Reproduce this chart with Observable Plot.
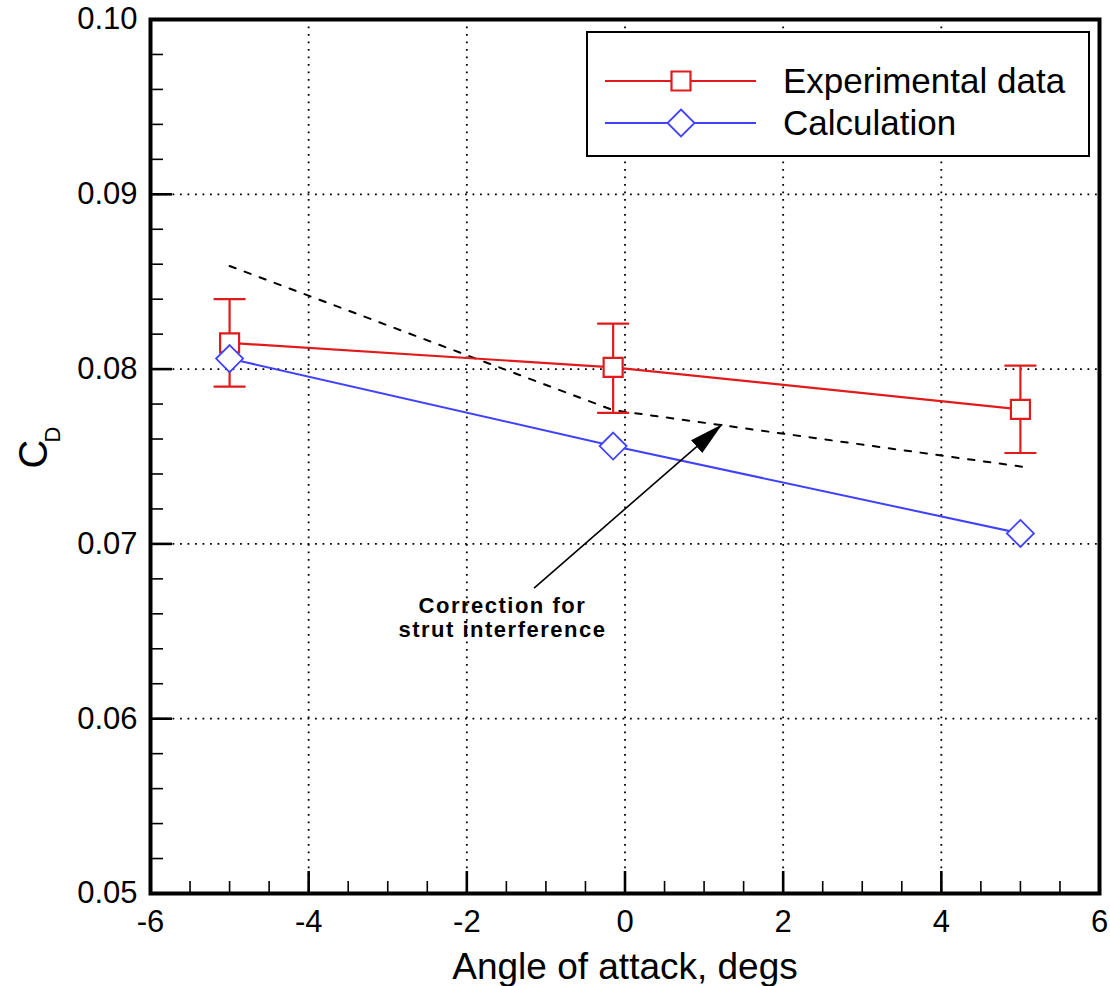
<!DOCTYPE html>
<html>
<head>
<meta charset="utf-8">
<script src="https://cdn.jsdelivr.net/npm/d3@7"></script>
<script src="https://cdn.jsdelivr.net/npm/@observablehq/plot@0.6"></script>
<style>
  body { margin: 0; background: #fff; }
  svg { display: block; }
</style>
</head>
<body>
<div id="chart"></div>
<script>
// ---- data ----
const angle     = [-5, -0.15, 5];
const expCD     = [0.0815, 0.0801, 0.0777];
const expHi     = [0.0840, 0.0826, 0.0802];
const expLo     = [0.0790, 0.0775, 0.0752];
const calcCD    = [0.0806, 0.0756, 0.0706];
const corrAngle = [-5, -0.15, 5.05];
const corrCD    = [0.0859, 0.07765, 0.0744];

const arrowFrom = [-1.15, 0.06747];
const arrowTo   = [1.23, 0.07684];
const noteX = -1.55, noteY = 0.06465;
const noteText = "Correction for\nstrut interference";

const xMajor = [-6, -4, -2, 0, 2, 4, 6];
const yMajor = [0.05, 0.06, 0.07, 0.08, 0.09, 0.10];
const xGrid = [-4, -2, 0, 2, 4];
const yGrid = [0.06, 0.07, 0.08, 0.09];
const xMinor = d3.range(-6, 6.001, 0.5);
const yMinor = d3.range(0.05, 0.1001, 0.002);

const seriesNames = ["Experimental data", "Calculation"];
const xTitle = "Angle of attack, degs";

const RED = "#e01b1b", BLUE = "#4040ff";
const FONT = "'Liberation Sans', Arial, Helvetica, sans-serif";

const exp = angle.map((a, i) => ({a, cd: expCD[i], hi: expHi[i], lo: expLo[i]}));
const calc = angle.map((a, i) => ({a, cd: calcCD[i]}));
const corr = corrAngle.map((a, i) => ({a, cd: corrCD[i]}));

// custom symbols
const capSym = {draw(c) { c.moveTo(-16, 0); c.lineTo(16, 0); }};
const squareSym = {draw(c) { c.moveTo(-9.5, -9.5); c.lineTo(9.5, -9.5); c.lineTo(9.5, 9.5); c.lineTo(-9.5, 9.5); c.closePath(); }};
const diamondSym = {draw(c) { c.moveTo(0, -13.5); c.lineTo(13.5, 0); c.lineTo(0, 13.5); c.lineTo(-13.5, 0); c.closePath(); }};

const W = 1110, H = 986, mL = 150, mR = 11, mT = 19, mB = 93;
const innerW = W - mL - mR, innerH = H - mT - mB;

const plot = Plot.plot({
  width: W, height: H,
  marginLeft: mL, marginRight: mR, marginTop: mT, marginBottom: mB,
  style: {fontFamily: FONT, background: "#fff", color: "#000", overflow: "visible"},
  x: {domain: [-6, 6]},
  y: {domain: [0.05, 0.10]},
  marks: [
    Plot.gridX(xGrid, {stroke: "#000", strokeOpacity: 1, strokeWidth: 1.8, strokeDasharray: "1.8,5.7"}),
    Plot.gridY(yGrid, {stroke: "#000", strokeOpacity: 1, strokeWidth: 1.8, strokeDasharray: "1.8,5.7"}),
    // inward ticks
    Plot.tickX(xMinor, {x: d => d, insetTop: innerH - 12, stroke: "#000", strokeWidth: 1.6}),
    Plot.tickX(xMajor, {x: d => d, insetTop: innerH - 22, stroke: "#000", strokeWidth: 2.6}),
    Plot.tickY(yMinor, {y: d => d, insetRight: innerW - 13, stroke: "#000", strokeWidth: 1.6}),
    Plot.tickY(yMajor, {y: d => d, insetRight: innerW - 22, stroke: "#000", strokeWidth: 2.6}),
    // tick labels
    Plot.axisX(xMajor, {tickSize: 0, tickPadding: 16, fontSize: 31, tickFormat: d => String(d), label: null}),
    Plot.axisY(yMajor, {tickSize: 0, tickPadding: 13, fontSize: 31, tickFormat: d => d.toFixed(2), label: null}),
    // correction (dashed)
    Plot.line(corr, {x: "a", y: "cd", stroke: "#000", strokeWidth: 2, strokeDasharray: "6.5,9.5"}),
    // experimental
    Plot.line(exp, {x: "a", y: "cd", stroke: RED, strokeWidth: 2.2}),
    Plot.ruleX(exp, {x: "a", y1: "lo", y2: "hi", stroke: RED, strokeWidth: 2.2}),
    Plot.dot(exp, {x: "a", y: "hi", symbol: capSym, stroke: RED, strokeWidth: 2.2}),
    Plot.dot(exp, {x: "a", y: "lo", symbol: capSym, stroke: RED, strokeWidth: 2.2}),
    Plot.dot(exp, {x: "a", y: "cd", symbol: squareSym, stroke: RED, fill: "#fff", strokeWidth: 2.2}),
    // calculation
    Plot.line(calc, {x: "a", y: "cd", stroke: BLUE, strokeWidth: 2}),
    Plot.dot(calc, {x: "a", y: "cd", symbol: diamondSym, stroke: BLUE, fill: "#fff", strokeWidth: 1.8}),
    // annotation
    Plot.link([0], {x1: () => arrowFrom[0], y1: () => arrowFrom[1], x2: () => arrowTo[0], y2: () => arrowTo[1], stroke: "#000", strokeWidth: 1.6}),
    Plot.text([noteText], {x: () => noteX, y: () => noteY, text: d => d, fontSize: 22, fontWeight: "bold", lineHeight: 1.1, lineAnchor: "bottom", textAnchor: "middle", fill: "#000"}),
    // axis titles
    Plot.text([xTitle], {frameAnchor: "bottom", dy: 85, text: d => d, fontSize: 37, lineAnchor: "bottom", fill: "#000"}),
    Plot.text(["C"], {frameAnchor: "left", dx: -116, dy: 12, rotate: -90, text: d => d, fontSize: 40, fill: "#000"}),
    Plot.text(["D"], {frameAnchor: "left", dx: -98, dy: -14, rotate: -90, text: d => d, fontSize: 22, fill: "#000"}),
    Plot.frame({stroke: "#000", strokeWidth: 4})
  ]
});

document.getElementById("chart").appendChild(plot);

const svg = d3.select(plot);

// letter spacing for annotation (pixel font look)
svg.selectAll("text").filter(function () { return this.textContent.startsWith("Correction"); })
  .attr("letter-spacing", 1.5);

// filled arrowhead on the annotation link
const defs = svg.append("defs");
defs.append("marker")
  .attr("id", "ahead").attr("markerUnits", "userSpaceOnUse")
  .attr("markerWidth", 36).attr("markerHeight", 18)
  .attr("viewBox", "-34 -9 36 18").attr("refX", 0).attr("refY", 0)
  .attr("orient", "auto")
  .append("path").attr("d", "M0,0L-34,-8.5L-34,8.5Z").attr("fill", "#000");
svg.select('g[aria-label="link"] path').attr("marker-end", "url(#ahead)");

// legend box
const lg = svg.append("g").attr("font-family", FONT).attr("text-anchor", "start");
lg.append("rect").attr("x", 587).attr("y", 32).attr("width", 502).attr("height", 124)
  .attr("fill", "#fff").attr("stroke", "#000").attr("stroke-width", 2);
const rows = [
  {y: 81, color: RED, sym: "M-9.5,-9.5H9.5V9.5H-9.5Z", sw: 2.2},
  {y: 123, color: BLUE, sym: "M0,-13.5L13.5,0L0,13.5L-13.5,0Z", sw: 1.8}
];
rows.forEach((r, i) => {
  lg.append("line").attr("x1", 605).attr("x2", 756).attr("y1", r.y).attr("y2", r.y)
    .attr("stroke", r.color).attr("stroke-width", 2);
  lg.append("path").attr("d", r.sym).attr("transform", `translate(681,${r.y})`)
    .attr("fill", "#fff").attr("stroke", r.color).attr("stroke-width", r.sw);
  lg.append("text").attr("x", 783).attr("y", r.y + 12).attr("font-size", 35)
    .attr("text-anchor", "start").attr("fill", "#000").text(seriesNames[i]);
});
</script>
</body>
</html>
